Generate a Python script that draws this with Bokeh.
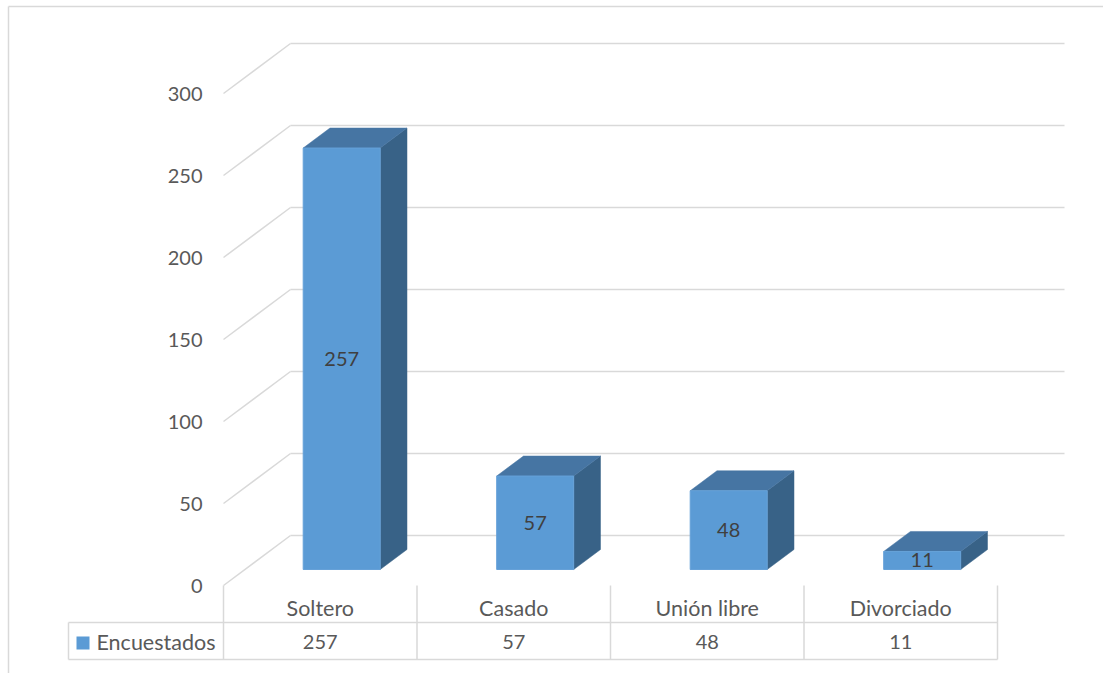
from bokeh.plotting import figure
from bokeh.models import Range1d
from bokeh.core.properties import value
from bokeh.embed import file_html
from bokeh.resources import INLINE

# ---- data ----
categories = ["Soltero", "Casado", "Unión libre", "Divorciado"]
encuestados = [257, 57, 48, 11]
series_name = "Encuestados"
y_ticks = [0, 50, 100, 150, 200, 250, 300]

# ---- layout constants (pixels) ----
W, H = 1103, 673
X0 = 223.0          # front-left corner of floor (px)
CAT_W = 193.5       # width of one category slot (px)
Y0 = 585.0          # front zero line (px)
PX_PER_UNIT = 82.0 / 50.0
DEPTH_PX_X, DEPTH_PX_Y = 67.0, 50.0

def u_of(px):
    return (px - X0) / CAT_W

def v_of(py):
    return (Y0 - py) / PX_PER_UNIT

DX = DEPTH_PX_X / CAT_W          # depth shift in category units
DY = DEPTH_PX_Y / PX_PER_UNIT    # depth shift in value units
BAR_W = 77.0 / CAT_W
D_FRONT, D_BAR = 0.32, 0.40

FONT = value("Lato")
GRID = "#D9D9D9"
TXT = "#595959"

p = figure(width=W, height=H, output_backend="svg", toolbar_location=None,
           x_range=Range1d(u_of(0), u_of(W)), y_range=Range1d(v_of(H), v_of(0)),
           min_border=0, outline_line_color=None, background_fill_color="white")
p.axis.visible = False
p.grid.visible = False

# chart border (top and left visible)
p.segment(x0=[u_of(8), u_of(8)], y0=[v_of(6), v_of(6)], x1=[u_of(W + 5), u_of(8)], y1=[v_of(6), v_of(H + 5)],
          line_color=GRID, line_width=1.5)

n = len(categories)
# walls: side diagonals + back horizontals
p.segment(x0=[0] * len(y_ticks), y0=y_ticks, x1=[DX] * len(y_ticks), y1=[t + DY for t in y_ticks],
          line_color=GRID, line_width=1.5)
p.segment(x0=[DX] * len(y_ticks), y0=[t + DY for t in y_ticks], x1=[n + DX] * len(y_ticks),
          y1=[t + DY for t in y_ticks], line_color=GRID, line_width=1.5)

# y tick labels
p.text(x=[u_of(202)] * len(y_ticks), y=y_ticks, text=[str(t) for t in y_ticks], text_align="right",
       text_baseline="middle", text_font=FONT, text_font_size="20px", text_color=TXT)

# bars
front_l, front_r, front_b, front_t = [], [], [], []
top_xs, top_ys, side_xs, side_ys = [], [], [], []
lab_x, lab_y = [], []
for i, val in enumerate(encuestados):
    c = i + 0.5 + D_FRONT * DX
    l, r = c - BAR_W / 2, c + BAR_W / 2
    b, t = D_FRONT * DY, val + D_FRONT * DY
    ox, oy = D_BAR * DX, D_BAR * DY
    front_l.append(l); front_r.append(r); front_b.append(b); front_t.append(t)
    top_xs.append([l, r, r + ox, l + ox]); top_ys.append([t, t, t + oy, t + oy])
    side_xs.append([r, r + ox, r + ox, r]); side_ys.append([b, b + oy, t + oy, t])
    lab_x.append(c); lab_y.append((b + t) / 2)

p.patches(xs=side_xs, ys=side_ys, fill_color="#386287", line_color="#386287", line_width=0.5)
p.patches(xs=top_xs, ys=top_ys, fill_color="#4675A3", line_color="#4675A3", line_width=0.5)
p.quad(left=front_l, right=front_r, bottom=front_b, top=front_t, fill_color="#5B9BD5",
       line_color="#66A1D8", line_width=1)
p.text(x=lab_x, y=lab_y, text=[str(v) for v in encuestados], text_align="center", text_baseline="middle",
       text_font=FONT, text_font_size="20px", text_color="#404040")

# data table
row1, row2 = v_of(622), v_of(659)
leg_l = u_of(68)
vx = [float(i) for i in range(n + 1)]
p.segment(x0=vx, y0=[0] * len(vx), x1=vx, y1=[row2] * len(vx), line_color=GRID, line_width=1.5)
p.segment(x0=[leg_l, leg_l, leg_l], y0=[row1, row2, row1], x1=[n, n, leg_l], y1=[row1, row2, row2],
          line_color=GRID, line_width=1.5)
p.text(x=[i + 0.5 for i in range(n)], y=[v_of(607)] * n, text=categories, text_align="center",
       text_baseline="middle", text_font=FONT, text_font_size="21.5px", text_color=TXT)
p.text(x=[i + 0.5 for i in range(n)], y=[v_of(641)] * n, text=[str(v) for v in encuestados],
       text_align="center", text_baseline="middle", text_font=FONT, text_font_size="20px", text_color=TXT)
p.quad(left=[u_of(76)], right=[u_of(89)], top=[v_of(636)], bottom=[v_of(649)], fill_color="#5B9BD5",
       line_color=None)
p.text(x=[u_of(96)], y=[v_of(641)], text=[series_name], text_align="left", text_baseline="middle",
       text_font=FONT, text_font_size="21.5px", text_color=TXT)

open("out.html", "w").write(file_html(p, INLINE))
